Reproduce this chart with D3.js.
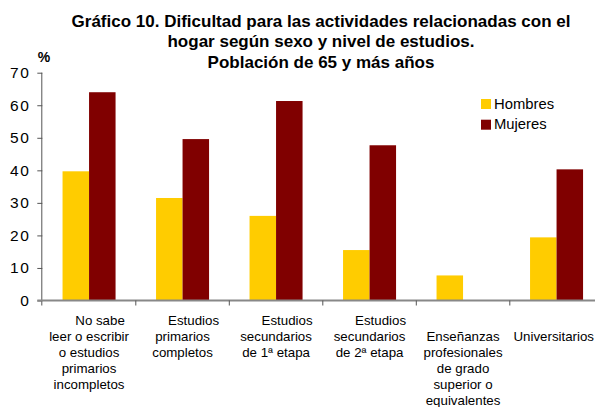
<!DOCTYPE html>
<html>
<head>
<meta charset="utf-8">
<script src="https://cdn.jsdelivr.net/npm/d3@7"></script>
<style>
  html, body { margin: 0; padding: 0; background: #fff; }
  svg { display: block; font-family: Arial, "Liberation Sans", sans-serif; }
</style>
</head>
<body>
<svg id="chart" width="595" height="407"></svg>
<script>
const titleLines = [
  "Gráfico 10. Dificultad para las actividades relacionadas con el",
  "hogar según sexo y nivel de estudios.",
  "Población de 65 y más años"
];
const categories = [
  ["No sabe", "leer o escribir", "o estudios", "primarios", "incompletos"],
  ["Estudios", "primarios", "completos"],
  ["Estudios", "secundarios", "de 1ª etapa"],
  ["Estudios", "secundarios", "de 2ª etapa"],
  ["Enseñanzas", "profesionales", "de grado", "superior o", "equivalentes"],
  ["Universitarios"]
];
const seriesNames = ["Hombres", "Mujeres"];
const hombres = [39.7, 31.5, 26.0, 15.5, 7.7, 19.4];
const mujeres = [64.0, 49.6, 61.3, 47.7, null, 40.3];
const colors = ["#FFCC00", "#800000"];
const yTicks = [0, 10, 20, 30, 40, 50, 60, 70];
const yUnit = "%";

const W = 595;
const svg = d3.select("#chart");
const x0 = 42.3, x1 = 603.3, yTop = 72.7, yBot = 300.5;

const catIdx = categories.map((d, i) => i);
const x = d3.scaleBand().domain(catIdx).range([x0, x1]).paddingInner(0.433).paddingOuter(0.2165);
const xs = d3.scaleBand().domain([0, 1]).range([0, x.bandwidth()]).padding(0);
const y = d3.scaleLinear().domain([0, 70]).range([yBot, yTop]);
const step = x.step();

// Title
const title = svg.append("text")
  .attr("text-anchor", "middle")
  .attr("font-size", "17px").attr("font-weight", "bold").attr("fill", "#000");
titleLines.forEach((t, i) => {
  title.append("tspan").attr("x", 321).attr("y", 26.7 + i * 20.5).text(t);
});

// Bars
const data = [hombres, mujeres];
data.forEach((vals, s) => {
  svg.append("g").selectAll("rect")
    .data(vals.map((v, i) => ({ v, i })).filter(d => d.v != null))
    .join("rect")
    .attr("x", d => x(d.i) + xs(s))
    .attr("width", xs.bandwidth())
    .attr("y", d => y(d.v))
    .attr("height", d => y(0) - y(d.v))
    .attr("fill", colors[s]);
});

// Y axis
const yAxis = d3.axisLeft(y).tickValues(yTicks).tickSize(5).tickPadding(7);
const gy = svg.append("g").attr("transform", `translate(${x0},0)`).call(yAxis);
gy.select(".domain").attr("stroke", "#555").attr("stroke-width", 1).attr("d", `M-0.5,${yTop}V${yBot + 5}`);
gy.selectAll(".tick line").attr("stroke", "#555");
gy.selectAll(".tick text")
  .attr("font-size", "15.5px").attr("fill", "#000")
  .attr("letter-spacing", "1.5px")
  .attr("font-family", "Arial, 'Liberation Sans', sans-serif");

// X axis line
svg.append("line")
  .attr("x1", x0 - 5).attr("x2", W)
  .attr("y1", yBot).attr("y2", yBot)
  .attr("stroke", "#888").attr("stroke-width", 2);
// X ticks at category boundaries
const bounds = d3.range(0, categories.length + 1).map(i => x0 + i * step);
svg.append("g").selectAll("line").data(bounds.slice(1)).join("line")
  .attr("x1", d => d).attr("x2", d => d)
  .attr("y1", yBot).attr("y2", yBot + 5)
  .attr("stroke", "#555").attr("stroke-width", 1);

// % unit
svg.append("text").attr("x", 44).attr("y", 62)
  .attr("text-anchor", "middle")
  .attr("font-size", "14px").attr("font-weight", "bold").text(yUnit);

// Category labels
categories.forEach((lines, i) => {
  const cx = x(i) + x.bandwidth() / 2;
  const startY = i < 4 ? 325 : 341;
  const t = svg.append("text")
    .attr("text-anchor", "middle")
    .attr("font-size", "13.3px").attr("fill", "#000");
  lines.forEach((ln, j) => {
    const ts = t.append("tspan")
      .attr("x", cx + (i < 4 && j === 0 ? 11 : 0))
      .attr("y", startY + j * 16)
      .text(ln);
    // keep text inside the picture
    const len = ts.node().getComputedTextLength();
    if (cx + len / 2 > W - 1) ts.attr("x", W - 1 - len / 2);
  });
});

// Legend
const lg = svg.append("g");
seriesNames.forEach((n, i) => {
  lg.append("rect").attr("x", 481).attr("y", 99 + i * 20.7)
    .attr("width", 10).attr("height", 10).attr("fill", colors[i]);
  lg.append("text").attr("x", 494).attr("y", 108.5 + i * 20.7)
    .attr("font-size", "14.8px").attr("fill", "#000").text(n);
});
</script>
</body>
</html>
